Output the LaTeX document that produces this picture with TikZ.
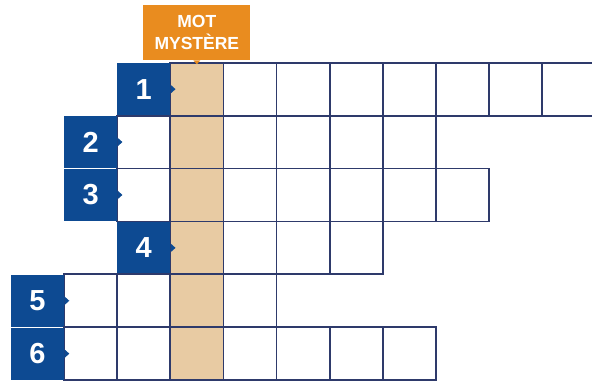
\documentclass[tikz,border=0pt]{standalone}
\usepackage{fontspec}
\setmainfont{Liberation Sans}
\usepackage{tikz}
\usetikzlibrary{positioning}
\definecolor{bleu}{HTML}{0D4A92}
\definecolor{orange}{HTML}{E98C1F}
\definecolor{mystere}{HTML}{E8CBA3}
\definecolor{ink}{HTML}{2E3A6B}
\tikzset{
  every node/.style={font=\bfseries},
  cell/.style={fill=white,minimum width=53.1pt,minimum height=52.9pt,inner sep=0pt,outer sep=0pt},
  gridline/.style={draw=ink,line width=1.8pt},
  numbox/.style={fill=bleu,text=white,minimum width=53.1pt,minimum height=52pt,inner sep=0pt,font=\fontsize{29}{29}\selectfont\bfseries},
  motbox/.style={fill=orange,text=white,align=center,minimum width=107pt,minimum height=55pt,inner sep=0pt,font=\fontsize{17.5}{21.5}\selectfont\bfseries},
}
\def\gridrows{1/2/10,2/1/7,3/1/8,4/2/6,5/0/4,6/0/7}

\begin{document}
\begin{tikzpicture}[x=1pt,y=-1pt]
  \useasboundingbox (0,0) rectangle (592,383);
  \clip (0,0) rectangle (592,383);
  \foreach \row/\numcol/\lastcol in \gridrows{
    \pgfmathtruncatemacro{\firstcol}{\numcol+1}
    \foreach \k in {\firstcol,...,\lastcol}{
      \ifnum\k=3 \def\cellfill{mystere}\else\def\cellfill{white}\fi
      \node[cell,fill=\cellfill] (c-\row-\k) at ({11+53.1*(\k+0.5)},{62.7+52.9*(\row-0.5)}) {};
    }
  }
  \foreach \row/\numcol/\lastcol in \gridrows{
    \pgfmathtruncatemacro{\firstcol}{\numcol+1}
    \foreach \k in {\firstcol,...,\lastcol}
      \draw[gridline] (c-\row-\k.north west) rectangle (c-\row-\k.south east);
    \node[numbox] (n-\row) at ({11+53.1*(\numcol+0.5)},{62.7+52.9*(\row-0.5)}) {\row};
    \fill[bleu] ([yshift=4.5pt]n-\row.east) -- ++(5pt,-4.5pt) -- ++(-5pt,-4.5pt) -- cycle;
  }
  \node[motbox,above=2.4pt of c-1-3] (mot) {MOT\\MYSTÈRE};
  \fill[orange] ([xshift=-3.5pt]mot.south) -- ([xshift=3.5pt]mot.south) -- ([yshift=-4pt]mot.south) -- cycle;
\end{tikzpicture}
\end{document}
